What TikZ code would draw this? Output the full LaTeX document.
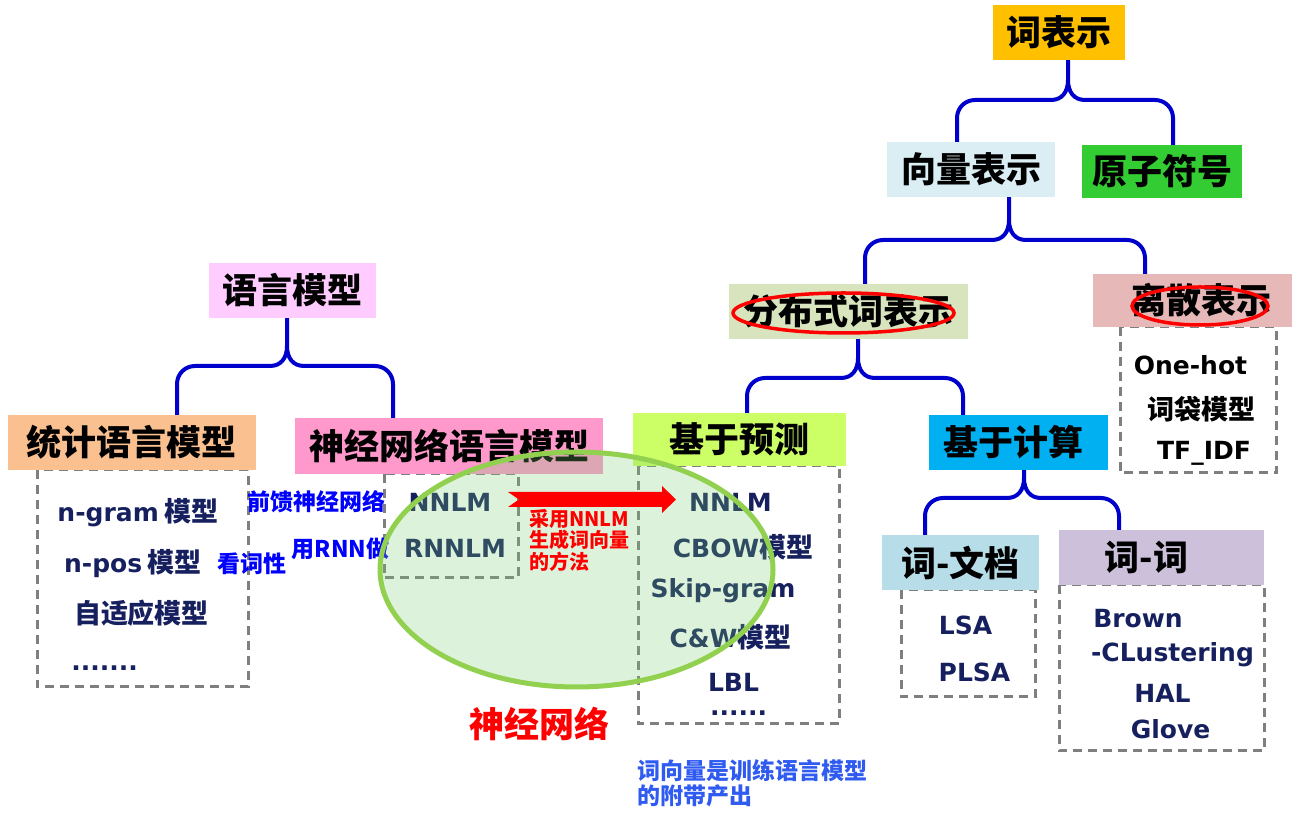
\documentclass[tikz,border=0pt]{standalone}
\usepackage{fontspec}
\setmainfont{Noto Sans CJK SC}
\newfontfamily\latf{DejaVu Sans}
\usetikzlibrary{calc}
\definecolor{cTop}{HTML}{FFC000}
\definecolor{cVec}{HTML}{DAEEF3}
\definecolor{cAtom}{HTML}{33CC33}
\definecolor{cDist}{HTML}{D7E4BD}
\definecolor{cDisc}{HTML}{E6B9B8}
\definecolor{cLm}{HTML}{FFCCFF}
\definecolor{cStat}{HTML}{FAC090}
\definecolor{cNn}{HTML}{FF99CC}
\definecolor{cPred}{HTML}{CCFF66}
\definecolor{cCalc}{HTML}{00B0F0}
\definecolor{cWd}{HTML}{B7DEE8}
\definecolor{cWw}{HTML}{CCC0DA}
\definecolor{cNavy}{HTML}{16205E}
\definecolor{cGray}{HTML}{7F7F7F}
\definecolor{cBrace}{HTML}{0000CC}
\definecolor{cBlue}{HTML}{0000FF}
\definecolor{cBlueB}{HTML}{2F5BF0}
\definecolor{cRed}{HTML}{FF0000}
\definecolor{cEll}{HTML}{92D050}
\definecolor{cEllF}{RGB}{120,205,110}
\newcommand\cjb[1]{{\fontsize{27}{30}\selectfont #1}}
\tikzset{
  title/.style={font=\fontsize{35}{40}\selectfont\bfseries, text=black, inner sep=0pt, anchor=center},
  item/.style={font=\fontsize{25}{30}\selectfont\bfseries, text=cNavy, anchor=base, inner sep=0pt},
  blackitem/.style={item, text=black},
  dbox/.style={draw=cGray, line width=3pt, dash pattern=on 9pt off 6pt},
  bracestyle/.style={draw=cBrace, line width=4pt, line join=round},
  note/.style={font=\fontsize{23}{26}\selectfont\bfseries, text=cBlue, anchor=base, inner sep=0pt},
  rednote/.style={font=\fontsize{20}{21}\selectfont\bfseries, text=cRed, anchor=base west, inner sep=0pt},
  bluenote/.style={font=\fontsize{23}{25}\selectfont\bfseries, text=cBlueB, anchor=base west, inner sep=0pt},
  loop/.style={draw=cRed, line width=3.5pt},
}
\newcommand\bracelink[4]{%
  \draw[bracestyle] let \p1=(#1), \p2=(#2), \p3=(#3), \p4=(0,#4) in
    ({\x2},{\y2}) -- ({\x2},{\y4-18pt}) .. controls ({\x2},{\y4-8pt}) and ({\x2+8pt},{\y4}) .. ({\x2+18pt},{\y4})
    -- ({\x1-17pt},{\y4}) .. controls ({\x1-6pt},{\y4}) and ({\x1},{\y4+8pt}) .. ({\x1},{\y4+20pt}) -- ({\x1},{\y1})
    ({\x3},{\y3}) -- ({\x3},{\y4-18pt}) .. controls ({\x3},{\y4-8pt}) and ({\x3-8pt},{\y4}) .. ({\x3-18pt},{\y4})
    -- ({\x1+17pt},{\y4}) .. controls ({\x1+6pt},{\y4}) and ({\x1},{\y4+8pt}) .. ({\x1},{\y4+20pt});
}
\begin{document}
\begin{tikzpicture}[x=1pt,y=1pt]
\useasboundingbox (0,0) rectangle (1294,816);

% dashed containers
\draw[dbox] (37,346) rectangle (248,129);
\draw[dbox] (384,342) rectangle (518,238);
\draw[dbox] (638,350) rectangle (839,92);
\draw[dbox] (1120,489) rectangle (1276,343);
\draw[dbox] (901,226) rectangle (1035,119);
\draw[dbox] (1059,231) rectangle (1264,65);

% title boxes
\node[title, fill=cTop,  minimum width=132pt, minimum height=55pt] (top)  at (1059,783.5) {词表示};
\node[title, fill=cVec,  minimum width=168pt, minimum height=55pt] (vec)  at (971,646.5)  {向量表示};
\node[title, fill=cAtom, minimum width=160pt, minimum height=53pt] (atom) at (1162,644.5) {原子符号};
\node[title, fill=cDist, minimum width=239pt, minimum height=55pt] (dist) at (848.5,504.5) {分布式词表示};
\node[title, fill=cDisc, minimum width=199pt, minimum height=53pt] (disc) at (1192.5,515.5) {\hspace*{18pt}离散表示};
\node[title, fill=cLm,   minimum width=167pt, minimum height=55pt] (lm)   at (292.5,525.5) {语言模型};
\node[title, fill=cStat, minimum width=248pt, minimum height=55pt] (stat) at (132,373.5)  {统计语言模型};
\node[title, fill=cNn,   minimum width=308pt, minimum height=56pt] (nn)   at (449,370)    {神经网络语言模型};
\node[title, fill=cPred, minimum width=213pt, minimum height=53pt] (pred) at (739.5,376.5) {基于预测};
\node[title, fill=cCalc, minimum width=179pt, minimum height=55pt] (calc) at (1018.5,373.5) {\hspace*{-10pt}基于计算};
\node[title, fill=cWd,   minimum width=157pt, minimum height=55pt] (wd)   at (960.5,253.5) {词-文档};
\node[title, fill=cWw,   minimum width=205pt, minimum height=55pt] (ww)   at (1161.5,258.5) {\hspace*{-30pt}词-词};

% brace connectors
\coordinate (p1) at ($(top.south)+(9,0)$);
\coordinate (l1) at ($(vec.north)+(-14,0)$);
\coordinate (r1) at ($(atom.north)+(11,0)$);
\bracelink{p1}{l1}{r1}{716}
\coordinate (p2) at ($(vec.south)+(38,0)$);
\coordinate (l2) at ($(dist.north)+(16.5,0)$);
\coordinate (r2) at ($(disc.north)+(-47.5,0)$);
\bracelink{p2}{l2}{r2}{576}
\coordinate (p3) at ($(dist.south)+(9.5,0)$);
\coordinate (l3) at ($(pred.north)+(7.5,0)$);
\coordinate (r3) at ($(calc.north)+(-55.5,0)$);
\bracelink{p3}{l3}{r3}{438}
\coordinate (p4) at ($(lm.south)+(-5.5,0)$);
\coordinate (l4) at ($(stat.north)+(45,0)$);
\coordinate (r4) at ($(nn.north)+(-56,0)$);
\bracelink{p4}{l4}{r4}{450}
\coordinate (p5) at ($(calc.south)+(5.5,0)$);
\coordinate (l5) at ($(wd.north)+(-35.5,0)$);
\coordinate (r5) at ($(ww.north)+(-42.5,0)$);
\bracelink{p5}{l5}{r5}{318}

% list items
\node[item] (s1) at (138,294) {{\latf n-gram} \cjb{模型}};
\node[item] (s2) at (133,243) {{\latf n-pos} \cjb{模型}};
\node[item] (s3) at (141.5,192) {\cjb{自适应模型}};
\node[item] (s4) at (104.5,145) {{\latf .......}};

\node[item] (n1) at (450,304) {{\latf NNLM}};
\node[item] (n2) at (455,258) {{\latf RNNLM}};

\node[item] (q1) at (730.5,304) {{\latf NNLM}};
\node[item] (q2) at (743,258) {{\latf CBOW}\cjb{模型}};
\node[item] (q3) at (723,218) {{\latf Skip-gram}};
\node[item] (q4) at (730.5,168) {{\latf C\&W}\cjb{模型}};
\node[item] (q5) at (733.5,124) {{\latf LBL}};
\node[item] (q6) at (738.5,100) {{\latf ......}};

\node[blackitem] (d1) at (1190.5,441) {{\latf One-hot}};
\node[blackitem] (d2) at (1201.5,396) {\cjb{词袋模型}};
\node[blackitem] (d3) at (1204,356) {{\latf TF\_IDF}};

\node[item] (w1) at (965.5,181) {{\latf LSA}};
\node[item] (w2) at (974.5,134) {{\latf PLSA}};

\node[item] (v1) at (1138,188) {{\latf Brown}};
\node[item] (v2) at (1172.5,154) {{\latf -CLustering}};
\node[item] (v3) at (1162.5,113) {{\latf HAL}};
\node[item] (v4) at (1170.5,77) {{\latf Glove}};

% blue annotations
\node[note] (a1) at (316,305) {前馈神经网络};
\node[note] (a2) at (340.5,258) {用RNN做};
\node[note] (a3) at (252,243) {看词性};

% neural network ellipse
\draw[draw=cEll, line width=5pt, fill=cEllF, fill opacity=0.25] (576.5,246.5) ellipse [x radius=196.5pt, y radius=117.5pt];

% red block arrow
\fill[cRed] (508,324) -- (662,324) -- (662,330) -- (676,316.5) -- (662,303) -- (662,309) -- (508,309) -- (519,316.5) -- cycle;

\node[rednote] (r1t) at (529,289) {采用NNLM};
\node[rednote] (r2t) at (529,268) {生成词向量};
\node[rednote] (r3t) at (529,246) {的方法};

\node[font=\fontsize{35}{40}\selectfont\bfseries, text=cRed, anchor=base, inner sep=0pt] (nnlabel) at (539.5,78) {神经网络};

\node[bluenote] (b1t) at (637,36) {词向量是训练语言模型};
\node[bluenote] (b2t) at (637,11) {的附带产出};

% red hand-drawn loops
\draw[loop] (843.5,503) ellipse [x radius=110.5pt, y radius=20pt];
\draw[loop] (1200,510) ellipse [x radius=68pt, y radius=19pt];
\end{tikzpicture}
\end{document}
